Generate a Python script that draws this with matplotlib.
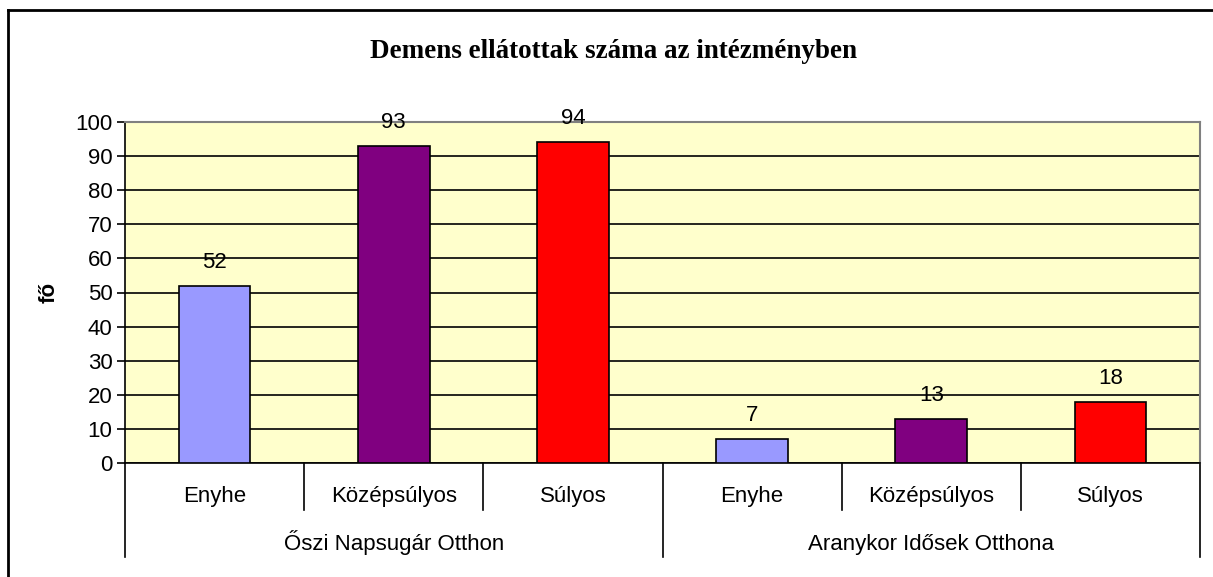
import matplotlib.pyplot as plt
from matplotlib.lines import Line2D

# data
groups = ["Őszi Napsugár Otthon", "Aranykor Idősek Otthona"]
levels = ["Enyhe", "Középsúlyos", "Súlyos"]
values_oszi = [52, 93, 94]
values_aranykor = [7, 13, 18]
colors = ["#9999FF", "#800080", "#FF0000"]

TITLE = "Demens ellátottak száma az intézményben"
YLABEL = "fő"

W, H = 1213, 577
FS = 16
fig = plt.figure(figsize=(W / 100, H / 100), dpi=100)
plt.rcParams["font.family"] = ["Liberation Sans", "DejaVu Sans"]

# plot area in pixel coords
L, R, T, B = 125, 1200, 122, 463
ax = fig.add_axes([L / W, 1 - B / H, (R - L) / W, (B - T) / H])
ax.set_facecolor("#FFFFCC")

all_vals = values_oszi + values_aranykor
n = len(all_vals)
xs = list(range(n))
bar_colors = colors * len(groups)
ax.bar(xs, all_vals, width=0.4, color=bar_colors, edgecolor="black",
       linewidth=1.2, zorder=3)
for x, v in zip(xs, all_vals):
    ax.annotate(str(v), (x, v), xytext=(0, 17), textcoords="offset points",
                ha="center", va="center", fontsize=FS, zorder=4)

ax.set_xlim(-0.5, n - 0.5)
ax.set_ylim(0, 100)
ax.set_yticks(range(0, 101, 10))
ax.tick_params(axis="y", labelsize=FS, length=6, width=1.2, pad=3)
ax.yaxis.grid(True, color="black", linewidth=1.2, zorder=1)
ax.set_axisbelow(True)
ax.set_xticks([])

for side in ("top", "right"):
    ax.spines[side].set_color("#808080")
    ax.spines[side].set_linewidth(1.5)
ax.spines["left"].set_linewidth(1.2)
ax.spines["bottom"].set_linewidth(1.2)

# two-level category axis
h_px = B - T
trans = ax.get_xaxis_transform()
short = -47 / h_px
long_ = -94 / h_px
for i in range(n + 1):
    edge = i - 0.5
    low = long_ if i % len(levels) == 0 else short
    ax.add_line(Line2D([edge, edge], [0, low], transform=trans, color="black",
                       linewidth=1.2, clip_on=False))
for x in xs:
    ax.text(x, -39 / h_px, levels[x % len(levels)], transform=trans,
            ha="center", va="baseline", fontsize=FS)
for g, name in enumerate(groups):
    cx = g * len(levels) + (len(levels) - 1) / 2
    ax.text(cx, -87 / h_px, name, transform=trans, ha="center", va="baseline",
            fontsize=FS)

ax.set_ylabel(YLABEL, fontsize=16, fontweight="bold", labelpad=11)

fig.text(613 / W, 1 - 58 / H, TITLE, ha="center", va="baseline",
         fontsize=19.5, fontweight="bold", family="Liberation Serif")

# chart frame (only top and left visible)
fig.add_artist(Line2D([8 / W, 1], [1 - 10 / H, 1 - 10 / H], color="black",
                      linewidth=2, transform=fig.transFigure))
fig.add_artist(Line2D([8 / W, 8 / W], [0, 1 - 10 / H], color="black",
                      linewidth=2, transform=fig.transFigure))

fig.savefig("out.png", dpi=100)
